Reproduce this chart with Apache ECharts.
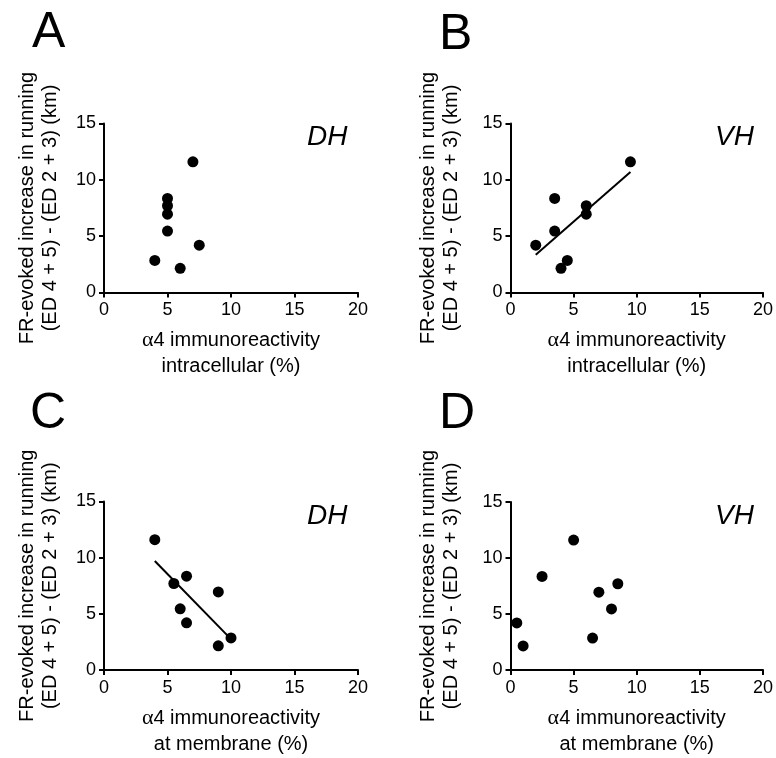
<!DOCTYPE html>
<html>
<head>
<meta charset="utf-8">
<title>α4 immunoreactivity vs FR-evoked running</title>
<script src="https://cdn.jsdelivr.net/npm/echarts@6/dist/echarts.min.js"></script>
<style>
  html, body { margin: 0; padding: 0; background: #fff; }
  #chart { width: 776px; height: 758px; }
</style>
</head>
<body>
<div id="chart"></div>
<script>
// FR-evoked increase in running per animal (km), same animal order in every panel
const runIncrease = [11.6, 8.35, 7.7, 6.95, 5.45, 4.2, 2.85, 2.15];

// α4 immunoreactivity (%) for the same animals
const dhIntracellular = [7, 5, 5, 5, 5, 7.5, 4, 6];
const vhIntracellular = [9.5, 3.5, 6, 6, 3.5, 2, 4.5, 4];
const dhMembrane = [4, 6.5, 5.5, 9, 6, 6.5, 10, 9];
const vhMembrane = [5, 2.5, 8.5, 7, 8, 0.5, 6.5, 1];

// Regression line end points for the significant panels
const fitVhIntracellular = [[2, 3.35], [9.5, 10.7]];
const fitDhMembrane = [[4, 9.7], [10, 2.75]];

const panelLetters = ['A', 'B', 'C', 'D'];
const regionLabels = ['DH', 'VH', 'DH', 'VH'];
const xTitles = [
  '{a|α}4 immunoreactivity\nintracellular (%)',
  '{a|α}4 immunoreactivity\nintracellular (%)',
  '{a|α}4 immunoreactivity\nat membrane (%)',
  '{a|α}4 immunoreactivity\nat membrane (%)'
];
const yTitle = 'FR-evoked increase in running\n(ED 4 + 5) - (ED 2 + 3) (km)';
const xTicks = { min: 0, max: 20, interval: 5 };
const yTicks = { min: 0, max: 15, interval: 5 };

const FONT = '"Liberation Sans", Arial, Helvetica, sans-serif';

// panel geometry
const grids = [
  { left: 104, top: 123.5, width: 254, height: 169 },
  { left: 510.5, top: 123.5, width: 253, height: 169 },
  { left: 104, top: 501.5, width: 254, height: 169 },
  { left: 510.5, top: 502, width: 253, height: 169 }
];
const yNameGap = [42, 48, 42, 48];
const letterPos = [[32, 33], [439, 35.5], [30, 414], [439, 414]];
const regionPos = [[307, 137], [715, 137], [307, 516], [715, 516]];

const xAxes = grids.map((g, i) => ({
  type: 'value',
  gridIndex: i,
  min: xTicks.min, max: xTicks.max, interval: xTicks.interval,
  name: xTitles[i],
  nameLocation: 'middle',
  nameGap: 35,
  nameTextStyle: {
    fontFamily: FONT, fontSize: 20, color: '#000', lineHeight: 26,
    rich: { a: { fontFamily: '"Liberation Serif", "DejaVu Serif", serif', fontSize: 22, color: '#000', lineHeight: 26 } }
  },
  axisLine: { show: true, onZero: false, lineStyle: { color: '#000', width: 2 } },
  axisTick: { show: true, length: 5, lineStyle: { color: '#000', width: 2 } },
  axisLabel: { fontFamily: FONT, fontSize: 18, color: '#000', margin: 9 },
  splitLine: { show: false }
}));

const yAxes = grids.map((g, i) => ({
  type: 'value',
  gridIndex: i,
  min: yTicks.min, max: yTicks.max, interval: yTicks.interval,
  name: yTitle,
  nameLocation: 'middle',
  nameRotate: 90,
  nameGap: yNameGap[i],
  nameTextStyle: { fontFamily: FONT, fontSize: 20, color: '#000', lineHeight: 23 },
  axisLine: { show: true, onZero: false, lineStyle: { color: '#000', width: 2 } },
  axisTick: { show: true, length: 5, lineStyle: { color: '#000', width: 2 } },
  axisLabel: { fontFamily: FONT, fontSize: 18, color: '#000', margin: 8 },
  splitLine: { show: false }
}));

const xSets = [dhIntracellular, vhIntracellular, dhMembrane, vhMembrane];
const series = xSets.map((xs, i) => ({
  type: 'scatter',
  xAxisIndex: i,
  yAxisIndex: i,
  symbol: 'circle',
  symbolSize: 11,
  itemStyle: { color: '#000', opacity: 1 },
  data: xs.map((x, k) => [x, runIncrease[k]]),
  z: 3
}));

[[1, fitVhIntracellular], [2, fitDhMembrane]].forEach(([i, pts]) => {
  series.push({
    type: 'line',
    xAxisIndex: i,
    yAxisIndex: i,
    symbol: 'none',
    lineStyle: { color: '#000', width: 2 },
    data: pts,
    z: 2
  });
});

const graphic = [];
panelLetters.forEach((t, i) => {
  graphic.push({
    type: 'text', left: letterPos[i][0], top: letterPos[i][1] - 25,
    style: { text: t, font: '50px ' + FONT, fill: '#000' }
  });
  graphic.push({
    type: 'text', left: regionPos[i][0], top: regionPos[i][1] - 14,
    style: { text: regionLabels[i], font: 'italic 28px ' + FONT, fill: '#000' }
  });
});

const chart = echarts.init(document.getElementById('chart'), null, { renderer: 'canvas' });
chart.setOption({
  backgroundColor: '#fff',
  animation: false,
  grid: grids,
  xAxis: xAxes,
  yAxis: yAxes,
  series: series,
  graphic: graphic
});
</script>
</body>
</html>
